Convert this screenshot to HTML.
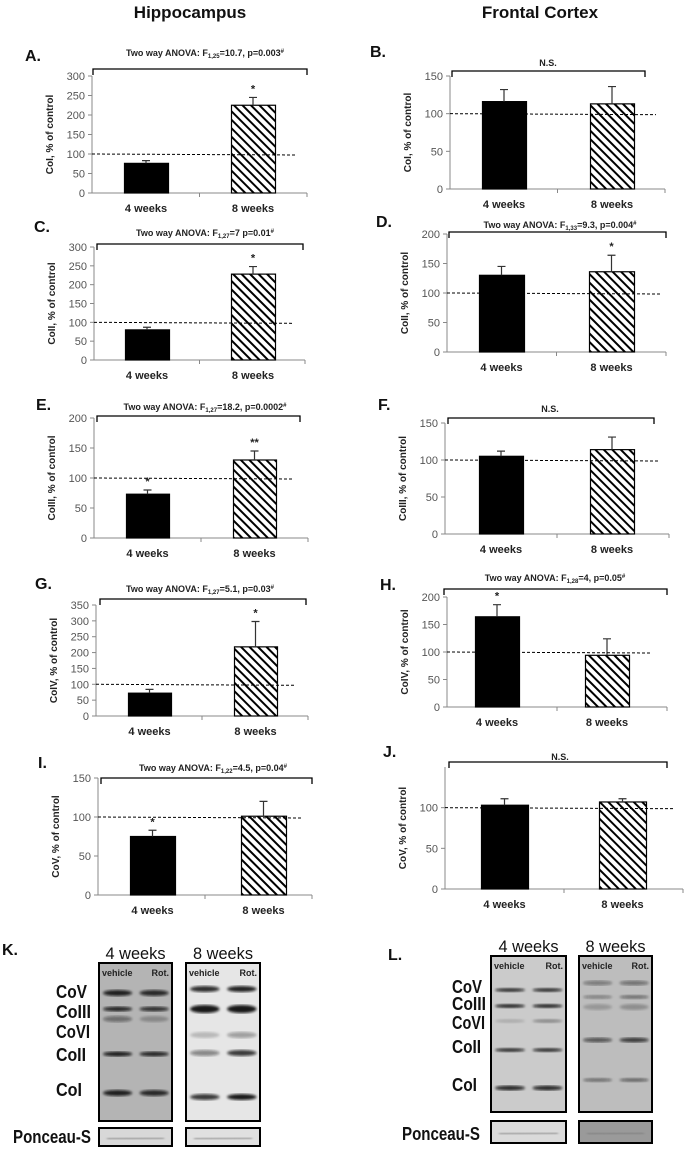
<!DOCTYPE html>
<html><head><meta charset="utf-8">
<style>
html,body{margin:0;padding:0;background:#fff;}
svg{display:block;font-family:"Liberation Sans",sans-serif;}
.tick{font-size:11px;fill:#555;}
.xl{font-size:11px;font-weight:bold;fill:#222;}
.yt{font-size:10px;font-weight:bold;fill:#222;}
.ttl{font-size:9px;font-weight:bold;fill:#222;}
.plab{font-size:16px;font-weight:bold;fill:#111;}
.head{font-size:17px;font-weight:bold;fill:#111;}
.blab{font-size:17px;fill:#111;}
.bl{font-size:18px;font-weight:bold;fill:#111;}
.lane{font-size:9px;font-weight:bold;fill:#222;}
</style></head>
<body>
<svg id="fig" width="684" height="1149" viewBox="0 0 684 1149" xmlns="http://www.w3.org/2000/svg">
<defs>
<pattern id="hatch" patternUnits="userSpaceOnUse" width="6" height="6" patternTransform="rotate(-45)">
<rect width="6" height="6" fill="#fff"/><rect x="0" y="0" width="2" height="6" fill="#000"/>
</pattern>
<filter id="blur1"><feGaussianBlur stdDeviation="1.2"/></filter>
</defs>
<text class="head" x="190" y="18" text-anchor="middle">Hippocampus</text>
<text class="head" x="540" y="18" text-anchor="middle">Frontal Cortex</text>
<g id="charts"></g>
<g id="blots"></g>
</svg>
<script>
// Data: one small array per panel (4 weeks, 8 weeks)
const categories = ["4 weeks", "8 weeks"];
const panelLetters = ["A.","B.","C.","D.","E.","F.","G.","H.","I.","J."];
const yTitles = ["CoI, % of control","CoI, % of control","CoII, % of control","CoII, % of control","CoIII, % of control","CoIII, % of control","CoIV, % of control","CoIV, % of control","CoV, % of control","CoV, % of control"];
const statTitles = ["Two way ANOVA: F|1,25|=10.7, p=0.003#","N.S.","Two way ANOVA: F|1,27|=7 p=0.01#","Two way ANOVA: F|1,33|=9.3, p=0.004#","Two way ANOVA: F|1,27|=18.2, p=0.0002#","N.S.","Two way ANOVA: F|1,27|=5.1, p=0.03#","Two way ANOVA: F|1,28|=4, p=0.05#","Two way ANOVA: F|1,22|=4.5, p=0.04#","N.S."];
const meansA = [76, 225], errA = [7, 20], starsA = ["", "*"];
const meansB = [116, 113], errB = [16, 23], starsB = ["", ""];
const meansC = [80, 228], errC = [7, 20], starsC = ["", "*"];
const meansD = [130, 136], errD = [15, 28], starsD = ["", "*"];
const meansE = [73, 130], errE = [7, 15], starsE = ["*", "**"];
const meansF = [105, 114], errF = [7, 17], starsF = ["", ""];
const meansG = [72, 218], errG = [12, 80], starsG = ["", "*"];
const meansH = [164, 94], errH = [22, 30], starsH = ["*", ""];
const meansI = [75, 101], errI = [8, 19], starsI = ["*", ""];
const meansJ = [103, 107], errJ = [8, 4], starsJ = ["", ""];
const ticks300 = [0,50,100,150,200,250,300];
const ticks150 = [0,50,100,150];
const ticks200 = [0,50,100,150,200];
const ticks350 = [0,50,100,150,200,250,300,350];
const ticks100 = [0,50,100];
const controlLevel = 100;
const allMeans = [meansA,meansB,meansC,meansD,meansE,meansF,meansG,meansH,meansI,meansJ];
const allErr = [errA,errB,errC,errD,errE,errF,errG,errH,errI,errJ];
const allStars = [starsA,starsB,starsC,starsD,starsE,starsF,starsG,starsH,starsI,starsJ];
const allTicks = [ticks300,ticks150,ticks300,ticks200,ticks200,ticks150,ticks350,ticks200,ticks150,ticks100];
const allMax = [300,150,300,200,200,150,350,200,150,150];

// layout (pixels)
const layout = [
 {ax:92,ax2:307,y0:193,y1:76,b:[124,231],bw:44,br:[93,307,69],tx:205,ty:56,lx:25,ly:61,dash:297},
 {ax:450,ax2:665,y0:189,y1:76,b:[482,590],bw:44,br:[452,645,71],tx:548,ty:66,lx:370,ly:57,dash:656},
 {ax:94,ax2:305,y0:360,y1:247,b:[125,231],bw:44,br:[97,303,244],tx:205,ty:236,lx:34,ly:232,dash:294},
 {ax:447,ax2:666,y0:352,y1:234,b:[479,589],bw:45,br:[449,666,232],tx:560,ty:228,lx:376,ly:227,dash:660},
 {ax:94,ax2:308,y0:538,y1:418,b:[126,233],bw:43,br:[97,300,416],tx:205,ty:410,lx:36,ly:410,dash:293},
 {ax:445,ax2:669,y0:534,y1:423,b:[479,590],bw:44,br:[448,654,418],tx:550,ty:412,lx:378,ly:410,dash:658},
 {ax:96,ax2:308,y0:716,y1:605,b:[128,234],bw:43,br:[100,306,599],tx:200,ty:592,lx:35,ly:589,dash:294},
 {ax:447,ax2:667,y0:707,y1:597,b:[475,585],bw:44,br:[444,667,589],tx:555,ty:581,lx:380,ly:590,dash:652},
 {ax:98,ax2:312,y0:895,y1:778,b:[130,241],bw:45,br:[101,312,778],tx:213,ty:771,lx:38,ly:768,dash:302},
 {ax:445,ax2:683,y0:889,y1:767,b:[481,599],bw:47,br:[449,667,762],tx:560,ty:760,lx:383,ly:757,dash:673}
];
const NS='http://www.w3.org/2000/svg';
function mk(tag, attrs, parent){const e=document.createElementNS(NS,tag);for(const k in attrs)e.setAttribute(k,attrs[k]);parent.appendChild(e);return e;}
const charts=document.getElementById('charts');
layout.forEach((L,i)=>{
  const g=mk('g',{},charts);
  
  
  const ymax=allMax[i];
  const yS=v=>L.y0-(v/ymax)*(L.y0-L.y1);
  const lt=mk('text',{x:L.lx,y:L.ly,class:'plab'},g);lt.textContent=panelLetters[i];
  
  
  const ya=mk('line',{x1:L.ax,y1:L.y0,x2:L.ax,y2:yS(ymax),stroke:'#888','stroke-width':1},g);
  
  
  const xa=mk('line',{x1:L.ax,y1:L.y0,x2:L.ax2,y2:L.y0,stroke:'#888','stroke-width':1},g);
  
  
  const mid=(L.ax+L.ax2)/2;
  [L.ax2,mid].forEach(x=>mk('line',{x1:x,y1:L.y0,x2:x,y2:L.y0+4,stroke:'#888'},g));
  allTicks[i].forEach(t=>{
    const y=yS(t);
    mk('line',{x1:L.ax-4,y1:y,x2:L.ax,y2:y,stroke:'#888'},g);
    const tx=mk('text',{x:L.ax-7,y:y+4,class:'tick','text-anchor':'end'},g);tx.textContent=t;
    
    
  });
  const cy=(L.y0+yS(ymax))/2;
  const yt=mk('text',{x:0,y:0,class:'yt','text-anchor':'middle',transform:`translate(${L.ax-39},${cy}) rotate(-90)`},g);yt.textContent=yTitles[i];
  
  
  allMeans[i].forEach((v,j)=>{
    const x=L.b[j],top=yS(v);
    const bar=mk('rect',{x:x+0.5,y:top,width:L.bw,height:L.y0-top,fill:j==0?'#000':'url(#hatch)',stroke:'#000','stroke-width':1.2},g);
    
    
    const cx=x+L.bw/2, et=yS(v+allErr[i][j]);
    const eb=mk('path',{d:`M${cx},${top} V${et} M${cx-4},${et} H${cx+4}`,stroke:'#333','stroke-width':1.2,fill:'none'},g);
    
    
    if(allStars[i][j]){
      const st=mk('text',{x:cx,y:et-5,class:'xl','text-anchor':'middle','font-size':'14px'},g);st.textContent=allStars[i][j];
      
      
    }
    const xl=mk('text',{x:cx,y:L.y0+19,class:'xl','text-anchor':'middle'},g);xl.textContent=categories[j];
    
    
  });
  const dl=mk('line',{x1:L.ax,y1:yS(controlLevel),x2:L.dash,y2:yS(controlLevel)+1,stroke:'#000','stroke-width':1,'stroke-dasharray':'3,2'},g);
  
  
  const [bx1,bx2,by]=L.br;
  const br=mk('path',{d:`M${bx1},${by+6} V${by} H${bx2} V${by+6}`,stroke:'#000','stroke-width':1.3,fill:'none'},g);
  
  
  const parts=statTitles[i].split('|');
  const tt=mk('text',{x:L.tx,y:L.ty,class:'ttl','text-anchor':'middle'},g);
  
  
  if(parts.length==1){tt.textContent=parts[0];}
  else{
    const a=mk('tspan',{},tt);a.textContent=parts[0];
    const b=mk('tspan',{'font-size':'6px',dy:2},tt);b.textContent=parts[1];
    const c=mk('tspan',{dy:-2},tt);c.textContent=parts[2].replace('#','');
    const d=mk('tspan',{'font-size':'6px',dy:-3},tt);d.textContent='#';
  }
});

// Western blots
const blots=document.getElementById('blots');
function blot(cfg){
  const g=mk('g',{},blots);
  
  
  const lt=mk('text',{x:cfg.lx,y:cfg.ly,class:'plab'},g);lt.textContent=cfg.letter;
  cfg.boxes.forEach((bx,k)=>{
    const h=mk('text',{x:bx.x+bx.w/2,y:cfg.top-4,class:'blab','text-anchor':'middle',textLength:60,lengthAdjust:'spacingAndGlyphs'},g);h.textContent=categories[k];
    
    
    const r=mk('rect',{x:bx.x,y:cfg.top,width:bx.w,height:cfg.bot-cfg.top,fill:bx.bg,stroke:'#000','stroke-width':2},g);
    
    
    const v=mk('text',{x:bx.x+3,y:cfg.top+13,class:'lane'},g);v.textContent='vehicle';
    const ro=mk('text',{x:bx.x+bx.w-3,y:cfg.top+13,class:'lane','text-anchor':'end'},g);ro.textContent='Rot.';
    bx.bands.forEach(b=>{
      [0,1].forEach(l=>{
        const w=bx.w*0.4;
        const x=bx.x+4+l*(bx.w*0.5);
        mk('ellipse',{cx:x+w/2,cy:b[0],rx:w/2,ry:b[1],fill:'#111','fill-opacity':b[2+l],filter:'url(#blur1)'},g);
      });
    });
    const p=mk('rect',{x:bx.x,y:cfg.py,width:bx.w,height:cfg.ph,fill:bx.pbg,stroke:'#000','stroke-width':2},g);
    
    
    mk('line',{x1:bx.x+8,y1:cfg.py+cfg.ph/2+2,x2:bx.x+bx.w-8,y2:cfg.py+cfg.ph/2+1,stroke:'#777','stroke-width':1.5,filter:'url(#blur1)'},g);
  });
  cfg.labels.forEach(l=>{
    const t=mk('text',{x:cfg.labx,y:l[1],class:'bl',textLength:l[2],lengthAdjust:'spacingAndGlyphs'},g);t.textContent=l[0];
    
    
  });
  const pl=mk('text',{x:cfg.plx,y:cfg.py+cfg.ph-3,class:'bl',textLength:78,lengthAdjust:'spacingAndGlyphs'},g);pl.textContent='Ponceau-S';
  
  
}
blot({name:'blot-k',letter:'K.',lx:2,ly:955,top:963,bot:1121,py:1128,ph:18,plx:13,labx:56,
 labels:[['CoV',998,31],['CoIII',1018,35],['CoVI',1038,34],['CoII',1061,30],['CoI',1096,26]],
 boxes:[{x:99,w:73,bg:'#b4b4b4',pbg:'#d8d8d8',bands:[[993,3,0.9,0.85],[1009,2.5,0.85,0.8],[1019,3,0.45,0.25],[1054,2.5,0.9,0.85],[1093,3,0.9,0.85]]},
        {x:186,w:74,bg:'#e6e6e6',pbg:'#e0e0e0',bands:[[989,3,0.85,0.9],[1009,4,0.95,0.95],[1035,3,0.2,0.35],[1053,3,0.45,0.8],[1097,3,0.8,0.95]]}]});
blot({name:'blot-l',letter:'L.',lx:388,ly:960,top:956,bot:1112,py:1121,ph:22,plx:402,labx:452,
 labels:[['CoV',993,30],['CoIII',1010,34],['CoVI',1029,33],['CoII',1053,29],['CoI',1091,25]],
 boxes:[{x:491,w:75,bg:'#cbcbcb',pbg:'#dadada',bands:[[990,2,0.8,0.8],[1006,2,0.85,0.85],[1021,2,0.15,0.3],[1050,2,0.8,0.8],[1088,2.5,0.85,0.85]]},
        {x:579,w:73,bg:'#bdbdbd',pbg:'#9a9a9a',bands:[[983,2.5,0.4,0.45],[997,2,0.35,0.45],[1007,3,0.2,0.25],[1040,2.5,0.6,0.75],[1080,2,0.45,0.5]]}]});
</script>
</body></html>
